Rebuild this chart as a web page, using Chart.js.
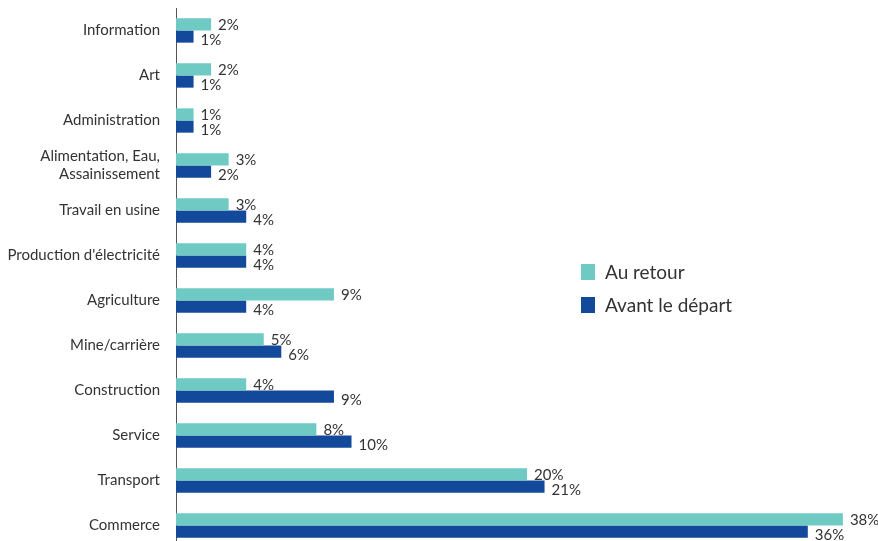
<!DOCTYPE html>
<html>
<head>
<meta charset="utf-8">
<script src="https://cdn.jsdelivr.net/npm/chart.js@4/dist/chart.umd.min.js"></script>
<style>
  html, body { margin: 0; padding: 0; background: #fff; overflow: hidden; }
  canvas { display: block; }
</style>
</head>
<body>
<canvas id="bar-chart" width="878" height="548"></canvas>
<script>
var categories = [
  "Information", "Art", "Administration", ["Alimentation, Eau,", "Assainissement"],
  "Travail en usine", "Production d'électricité", "Agriculture", "Mine/carrière",
  "Construction", "Service", "Transport", "Commerce"
]
var auRetour = [2, 2, 1, 3, 3, 4, 9, 5, 4, 8, 20, 38]
var avantDepart = [1, 1, 1, 2, 4, 4, 4, 6, 9, 10, 21, 36]
var seriesNames = ["Au retour", "Avant le départ"]
var colors = ["#6fcac4", "#13499a"]

var FONT = "Lato, 'Open Sans', sans-serif"

// percent labels at the end of each bar
var valueLabels = {
  id: 'valueLabels',
  afterDatasetsDraw: function(chart) {
    var ctx = chart.ctx
    ctx.save()
    ctx.font = '15px ' + FONT
    ctx.fillStyle = '#333'
    ctx.textBaseline = 'middle'
    chart.data.datasets.forEach(function(ds, i) {
      chart.getDatasetMeta(i).data.forEach(function(bar, j) {
        ctx.fillText(ds.data[j] + '%', bar.x + 7, bar.y + (i == 0 ? 1 : 4))
      })
    })
    ctx.restore()
  }
}

// legend box on the right side
var sideLegend = {
  id: 'sideLegend',
  afterDraw: function(chart) {
    var ctx = chart.ctx
    ctx.save()
    ctx.font = '19px ' + FONT
    ctx.textBaseline = 'middle'
    seriesNames.forEach(function(name, i) {
      var y = 272 + i * 33
      ctx.fillStyle = colors[i]
      ctx.fillRect(581, y - 8, 14, 16)
      ctx.fillStyle = '#333'
      ctx.fillText(name, 605, y + 1)
    })
    ctx.restore()
  }
}

new Chart(document.getElementById("bar-chart"), {
  type: 'bar',
  data: {
    labels: categories,
    datasets: [
      { label: seriesNames[0], data: auRetour, backgroundColor: colors[0] },
      { label: seriesNames[1], data: avantDepart, backgroundColor: colors[1] }
    ]
  },
  options: {
    indexAxis: 'y',
    responsive: false,
    animation: false,
    layout: { padding: { top: 8, right: 0, bottom: 0, left: 0 } },
    datasets: { bar: { categoryPercentage: 0.54, barPercentage: 1 } },
    plugins: { legend: { display: false }, tooltip: { enabled: false } },
    scales: {
      x: { display: false, min: 0, max: 40 },
      y: {
        afterFit: function(scale) {
          scale.width = 176
          scale.paddingTop = 0
          scale.paddingBottom = 0
        },
        grid: { display: false, drawTicks: false },
        border: { display: true, color: '#555', width: 1 },
        ticks: { color: '#333', padding: 16, font: { family: FONT, size: 15 } }
      }
    }
  },
  plugins: [valueLabels, sideLegend]
})
</script>
</body>
</html>
